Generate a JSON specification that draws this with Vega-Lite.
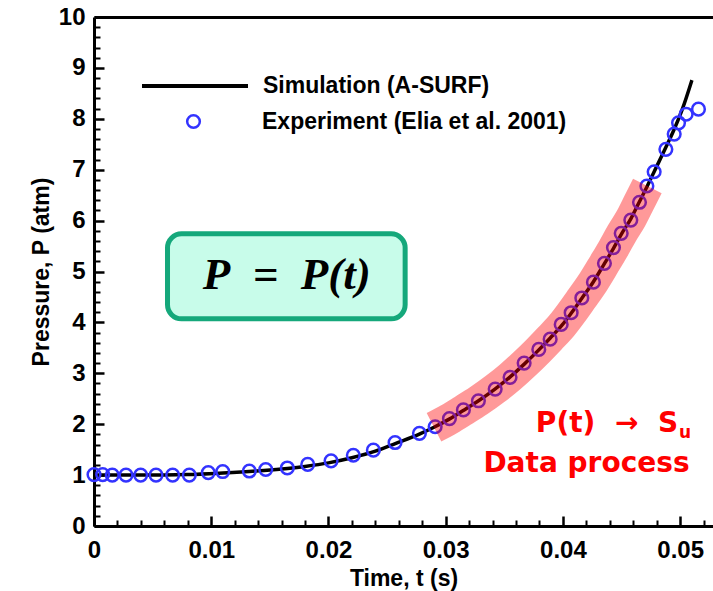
{
  "$schema": "https://vega.github.io/schema/vega-lite/v6.json",
  "width": 619,
  "height": 509,
  "autosize": {"type": "none"},
  "padding": {"left": 94, "top": 17, "right": 0, "bottom": 65},
  "background": "white",
  "config": {"view": {"stroke": null}, "font": "Liberation Sans", "axis": {"grid": false}},
  "resolve": {"axis": {"x": "independent", "y": "independent"}},
  "datasets": {
    "sim": [
      {"t": 0.0, "P": 1.0, "series": "Simulation (A-SURF)"},
      {"t": 0.004, "P": 1.0, "series": "Simulation (A-SURF)"},
      {"t": 0.008, "P": 1.01, "series": "Simulation (A-SURF)"},
      {"t": 0.011, "P": 1.04, "series": "Simulation (A-SURF)"},
      {"t": 0.0145, "P": 1.09, "series": "Simulation (A-SURF)"},
      {"t": 0.018, "P": 1.17, "series": "Simulation (A-SURF)"},
      {"t": 0.02, "P": 1.24, "series": "Simulation (A-SURF)"},
      {"t": 0.022, "P": 1.34, "series": "Simulation (A-SURF)"},
      {"t": 0.024, "P": 1.47, "series": "Simulation (A-SURF)"},
      {"t": 0.0257, "P": 1.62, "series": "Simulation (A-SURF)"},
      {"t": 0.0278, "P": 1.81, "series": "Simulation (A-SURF)"},
      {"t": 0.029, "P": 1.94, "series": "Simulation (A-SURF)"},
      {"t": 0.0303, "P": 2.1, "series": "Simulation (A-SURF)"},
      {"t": 0.0315, "P": 2.27, "series": "Simulation (A-SURF)"},
      {"t": 0.0328, "P": 2.46, "series": "Simulation (A-SURF)"},
      {"t": 0.0342, "P": 2.69, "series": "Simulation (A-SURF)"},
      {"t": 0.0355, "P": 2.93, "series": "Simulation (A-SURF)"},
      {"t": 0.0367, "P": 3.18, "series": "Simulation (A-SURF)"},
      {"t": 0.0379, "P": 3.45, "series": "Simulation (A-SURF)"},
      {"t": 0.0389, "P": 3.69, "series": "Simulation (A-SURF)"},
      {"t": 0.0399, "P": 3.94, "series": "Simulation (A-SURF)"},
      {"t": 0.0407, "P": 4.18, "series": "Simulation (A-SURF)"},
      {"t": 0.0416, "P": 4.47, "series": "Simulation (A-SURF)"},
      {"t": 0.0426, "P": 4.8, "series": "Simulation (A-SURF)"},
      {"t": 0.0435, "P": 5.14, "series": "Simulation (A-SURF)"},
      {"t": 0.0443, "P": 5.45, "series": "Simulation (A-SURF)"},
      {"t": 0.045, "P": 5.74, "series": "Simulation (A-SURF)"},
      {"t": 0.0458, "P": 6.04, "series": "Simulation (A-SURF)"},
      {"t": 0.0465, "P": 6.36, "series": "Simulation (A-SURF)"},
      {"t": 0.0472, "P": 6.68, "series": "Simulation (A-SURF)"},
      {"t": 0.0478, "P": 6.97, "series": "Simulation (A-SURF)"},
      {"t": 0.0488, "P": 7.45, "series": "Simulation (A-SURF)"},
      {"t": 0.0495, "P": 7.8, "series": "Simulation (A-SURF)"},
      {"t": 0.0502, "P": 8.2, "series": "Simulation (A-SURF)"},
      {"t": 0.051, "P": 8.76, "series": "Simulation (A-SURF)"}
    ],
    "exp": [
      {"t": 0.0, "P": 1.01, "series": "Experiment (Elia et al. 2001)"},
      {"t": 0.00074, "P": 1.01, "series": "Experiment (Elia et al. 2001)"},
      {"t": 0.00156, "P": 1.0, "series": "Experiment (Elia et al. 2001)"},
      {"t": 0.00273, "P": 1.0, "series": "Experiment (Elia et al. 2001)"},
      {"t": 0.00398, "P": 1.0, "series": "Experiment (Elia et al. 2001)"},
      {"t": 0.00529, "P": 1.0, "series": "Experiment (Elia et al. 2001)"},
      {"t": 0.00671, "P": 1.0, "series": "Experiment (Elia et al. 2001)"},
      {"t": 0.00813, "P": 1.0, "series": "Experiment (Elia et al. 2001)"},
      {"t": 0.00975, "P": 1.05, "series": "Experiment (Elia et al. 2001)"},
      {"t": 0.01098, "P": 1.07, "series": "Experiment (Elia et al. 2001)"},
      {"t": 0.01325, "P": 1.08, "series": "Experiment (Elia et al. 2001)"},
      {"t": 0.01465, "P": 1.11, "series": "Experiment (Elia et al. 2001)"},
      {"t": 0.01649, "P": 1.14, "series": "Experiment (Elia et al. 2001)"},
      {"t": 0.01823, "P": 1.21, "series": "Experiment (Elia et al. 2001)"},
      {"t": 0.02022, "P": 1.28, "series": "Experiment (Elia et al. 2001)"},
      {"t": 0.02212, "P": 1.39, "series": "Experiment (Elia et al. 2001)"},
      {"t": 0.02383, "P": 1.49, "series": "Experiment (Elia et al. 2001)"},
      {"t": 0.02568, "P": 1.64, "series": "Experiment (Elia et al. 2001)"},
      {"t": 0.02776, "P": 1.82, "series": "Experiment (Elia et al. 2001)"},
      {"t": 0.0291, "P": 1.95, "series": "Experiment (Elia et al. 2001)"},
      {"t": 0.03032, "P": 2.11, "series": "Experiment (Elia et al. 2001)"},
      {"t": 0.03151, "P": 2.28, "series": "Experiment (Elia et al. 2001)"},
      {"t": 0.03279, "P": 2.46, "series": "Experiment (Elia et al. 2001)"},
      {"t": 0.03422, "P": 2.69, "series": "Experiment (Elia et al. 2001)"},
      {"t": 0.03549, "P": 2.92, "series": "Experiment (Elia et al. 2001)"},
      {"t": 0.03669, "P": 3.2, "series": "Experiment (Elia et al. 2001)"},
      {"t": 0.03794, "P": 3.47, "series": "Experiment (Elia et al. 2001)"},
      {"t": 0.03891, "P": 3.67, "series": "Experiment (Elia et al. 2001)"},
      {"t": 0.03985, "P": 3.96, "series": "Experiment (Elia et al. 2001)"},
      {"t": 0.0407, "P": 4.19, "series": "Experiment (Elia et al. 2001)"},
      {"t": 0.04161, "P": 4.48, "series": "Experiment (Elia et al. 2001)"},
      {"t": 0.0426, "P": 4.79, "series": "Experiment (Elia et al. 2001)"},
      {"t": 0.04354, "P": 5.16, "series": "Experiment (Elia et al. 2001)"},
      {"t": 0.04431, "P": 5.47, "series": "Experiment (Elia et al. 2001)"},
      {"t": 0.04497, "P": 5.75, "series": "Experiment (Elia et al. 2001)"},
      {"t": 0.04579, "P": 6.01, "series": "Experiment (Elia et al. 2001)"},
      {"t": 0.04653, "P": 6.36, "series": "Experiment (Elia et al. 2001)"},
      {"t": 0.04716, "P": 6.68, "series": "Experiment (Elia et al. 2001)"},
      {"t": 0.04778, "P": 6.96, "series": "Experiment (Elia et al. 2001)"},
      {"t": 0.04878, "P": 7.4, "series": "Experiment (Elia et al. 2001)"},
      {"t": 0.04949, "P": 7.7, "series": "Experiment (Elia et al. 2001)"},
      {"t": 0.04986, "P": 7.92, "series": "Experiment (Elia et al. 2001)"},
      {"t": 0.05051, "P": 8.09, "series": "Experiment (Elia et al. 2001)"},
      {"t": 0.05156, "P": 8.19, "series": "Experiment (Elia et al. 2001)"}
    ]
  },
  "layer": [
    {
      "data": {"values": [{}]},
      "mark": {"type": "rect", "cornerRadius": 14, "fill": "#c8fcea", "stroke": "#15a87b", "strokeWidth": 5},
      "encoding": {
        "x": {"datum": 0.00627, "type": "quantitative", "scale": {"domain": [0, 0.0528], "nice": false, "zero": false}, "axis": null},
        "x2": {"datum": 0.02654},
        "y": {"datum": 5.74, "type": "quantitative", "scale": {"domain": [0, 10], "nice": false}, "axis": null},
        "y2": {"datum": 4.07}
      }
    },
    {
      "data": {"values": [{}]},
      "mark": {"type": "text", "font": "Liberation Serif", "fontWeight": "bold", "fontStyle": "italic", "fontSize": 45, "align": "center", "baseline": "alphabetic", "color": "black"},
      "encoding": {
        "x": {"datum": 0.01644, "type": "quantitative", "axis": null},
        "y": {"datum": 4.66, "type": "quantitative", "axis": null},
        "text": {"value": "P\u2002=\u2002P(t)"}
      }
    },
    {
      "data": {"name": "sim"},
      "mark": {"type": "line", "strokeWidth": 3.5, "interpolate": "monotone"},
      "encoding": {
        "x": {"field": "t", "type": "quantitative",
          "axis": {"orient": "bottom", "values": [0, 0.01, 0.02, 0.03, 0.04, 0.05], "format": "~g", "title": "Time, t (s)", "tickSize": -10, "tickWidth": 2.5, "tickColor": "black", "domain": true, "domainColor": "black", "domainWidth": 3, "labels": true, "labelFont": "Liberation Sans", "labelFontWeight": "bold", "labelFontSize": 24, "labelColor": "black", "labelPadding": 22, "labelFlush": false, "labelOverlap": false, "titleFont": "Liberation Sans", "titleFontSize": 23, "titleFontWeight": "bold", "titleColor": "black", "titlePadding": 5, "grid": false}},
        "y": {"field": "P", "type": "quantitative",
          "axis": {"orient": "left", "values": [0, 1, 2, 3, 4, 5, 6, 7, 8, 9, 10], "format": "d", "title": "Pressure, P (atm)", "tickSize": -10, "tickWidth": 2.5, "tickColor": "black", "domain": true, "domainColor": "black", "domainWidth": 3, "labels": true, "labelFont": "Liberation Sans", "labelFontWeight": "bold", "labelFontSize": 24, "labelColor": "black", "labelPadding": 19, "labelFlush": false, "labelOverlap": false, "titleFont": "Liberation Sans", "titleFontSize": 23, "titleFontWeight": "bold", "titleColor": "black", "titlePadding": 5, "grid": false}},
        "color": {"field": "series", "type": "nominal", "scale": {"domain": ["Simulation (A-SURF)"], "range": ["black"]},
          "legend": {"orient": "none", "legendX": 46, "legendY": 14, "title": null, "symbolType": "stroke", "symbolSize": 11236, "symbolStrokeWidth": 4, "symbolStrokeColor": "black", "labelFont": "Liberation Sans", "labelFontSize": 23, "labelFontWeight": "bold", "labelColor": "black", "labelOffset": 13, "labelLimit": 0, "padding": 0}}
      }
    },
    {
      "data": {"name": "exp"},
      "mark": {"type": "point", "filled": false, "color": "#3333ff", "strokeWidth": 2.5, "size": 160, "opacity": 1},
      "encoding": {
        "x": {"field": "t", "type": "quantitative",
          "axis": {"orient": "bottom", "values": [0.002, 0.004, 0.006, 0.008, 0.012, 0.014, 0.016, 0.018, 0.022, 0.024, 0.026, 0.028, 0.032, 0.034, 0.036, 0.038, 0.042, 0.044, 0.046, 0.048, 0.052], "labels": false, "domain": false, "title": null, "tickSize": -6, "tickWidth": 2, "tickColor": "black", "grid": false}},
        "y": {"field": "P", "type": "quantitative",
          "axis": {"orient": "left", "values": [0.2, 0.4, 0.6, 0.8, 1.2, 1.4, 1.6, 1.8, 2.2, 2.4, 2.6, 2.8, 3.2, 3.4, 3.6, 3.8, 4.2, 4.4, 4.6, 4.8, 5.2, 5.4, 5.6, 5.8, 6.2, 6.4, 6.6, 6.8, 7.2, 7.4, 7.6, 7.8, 8.2, 8.4, 8.6, 8.8, 9.2, 9.4, 9.6, 9.8], "labels": false, "domain": false, "title": null, "tickSize": -6, "tickWidth": 2, "tickColor": "black", "grid": false}},
        "shape": {"field": "series", "type": "nominal", "scale": {"domain": ["Experiment (Elia et al. 2001)"], "range": ["circle"]},
          "legend": {"orient": "none", "legendX": 88, "legendY": 93, "title": null, "symbolSize": 160, "symbolStrokeWidth": 2.5, "symbolStrokeColor": "#3333ff", "symbolFillColor": "transparent", "labelFont": "Liberation Sans", "labelFontSize": 23, "labelFontWeight": "bold", "labelColor": "black", "labelOffset": 57, "labelLimit": 0, "padding": 0}}
      }
    },
    {
      "data": {"name": "sim"},
      "transform": [{"filter": "datum.t >= 0.029 && datum.t <= 0.0472"}],
      "mark": {"type": "line", "color": "#ff0000", "opacity": 0.4, "strokeWidth": 32, "strokeCap": "butt", "interpolate": "monotone"},
      "encoding": {
        "x": {"field": "t", "type": "quantitative",
          "axis": {"orient": "top", "ticks": false, "labels": false, "title": null, "domain": true, "domainColor": "black", "domainWidth": 3, "grid": false}},
        "y": {"field": "P", "type": "quantitative", "axis": null}
      }
    },
    {
      "data": {"values": [{}]},
      "mark": {"type": "text", "font": "DejaVu Sans", "fontWeight": "bold", "fontSize": 28, "align": "right", "baseline": "alphabetic", "color": "#ff0000"},
      "encoding": {
        "x": {"datum": 0.04983, "type": "quantitative", "axis": null},
        "y": {"datum": 1.854, "type": "quantitative", "axis": null},
        "text": {"value": "P(t)\u2002\u2009\u2192\u2002\u2009S"}
      }
    },
    {
      "data": {"values": [{}]},
      "mark": {"type": "text", "font": "DejaVu Sans", "fontWeight": "bold", "fontSize": 17, "align": "left", "baseline": "alphabetic", "color": "#ff0000"},
      "encoding": {
        "x": {"datum": 0.04991, "type": "quantitative", "axis": null},
        "y": {"datum": 1.73, "type": "quantitative", "axis": null},
        "text": {"value": "u"}
      }
    },
    {
      "data": {"values": [{}]},
      "mark": {"type": "text", "font": "DejaVu Sans", "fontWeight": "bold", "fontSize": 28, "align": "right", "baseline": "alphabetic", "color": "#ff0000"},
      "encoding": {
        "x": {"datum": 0.0508, "type": "quantitative", "axis": null},
        "y": {"datum": 1.068, "type": "quantitative", "axis": null},
        "text": {"value": "Data process"}
      }
    }
  ]
}
